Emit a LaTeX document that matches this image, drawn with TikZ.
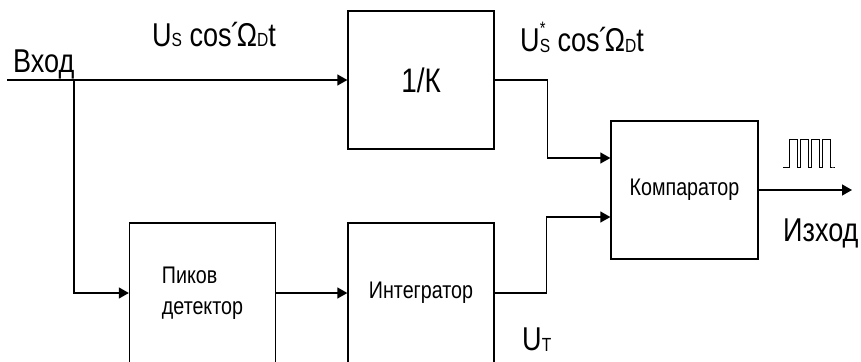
\documentclass[tikz,border=0pt]{standalone}
\usepackage{fontspec}
\setmainfont{Liberation Sans}[FakeStretch=0.82]
\usepackage{tikz}
\usetikzlibrary{arrows.meta, positioning}

% small index letter set on the base line
\newcommand{\lowtxt}[1]{\raisebox{-1pt}{\fontsize{19}{19}\selectfont #1}}
\newcommand{\startxt}{\makebox[0pt][l]{\raisebox{17pt}{\fontsize{18}{18}\selectfont *}}}
\newcommand{\acutetxt}{\kern-1pt´\kern-3pt}

\begin{document}
\begin{tikzpicture}[
    x=1pt, y=-1pt,
    blockbox/.style={draw, line width=1.3pt, minimum width=146pt, minimum height=138pt, inner sep=0pt, font=\fontsize{24}{31}\selectfont},
    sig/.style={-{Triangle[length=10pt, width=11pt]}, line width=1.3pt},
    lbl/.style={inner sep=0pt, font=\fontsize{33}{36}\selectfont},
]
  \useasboundingbox (0,0) rectangle (861,361);
  \clip (0,0) rectangle (861,361);

  \node[blockbox, font=\fontsize{34}{36}\selectfont] (inv) at (421,80) {\raisebox{-3pt}{1/К}};
  \node[blockbox, minimum height=140pt, align=left] (peak) at (202.5,293) {Пиков\\детектор};
  \node[blockbox, minimum height=140pt] (integ) at (421,293) {Интегратор};
  \node[blockbox, minimum width=147pt] (cmp) at (684.5,190) {Компаратор};

  \coordinate (in) at (7,80);
  \coordinate (split) at (74,80);
  \coordinate (out) at (852,190);

  \draw[sig] (in) -- (inv.west);
  \draw[sig] (split) |- (peak.west);
  \draw[sig] (peak.east) -- (integ.west);
  \draw[sig] (inv.east) -- ++(53,0) |- ([yshift=32pt]cmp.west);
  \draw[sig] (integ.east) -- ++(52,0) |- ([yshift=-27pt]cmp.west);
  \draw[sig] (cmp.east) -- (out);

  % pulse train over the output
  \draw[line width=1pt] (783,167) -- (789,167)
    foreach \k in {1,...,4} { -- ++(0,-28) -- ++(8,0) -- ++(0,28) -- ++(3,0) } -- ++(2,0);

  \node[lbl, anchor=base west] (vhod) at (13,72) {Вход};
  \node[lbl, anchor=base west] (izhod) at (783,241) {Изход};
  \node[lbl, anchor=base west] (usin) at (152,46) {U\lowtxt{S} cos\acutetxt Ω\lowtxt{D}t};
  \node[lbl, anchor=base west] (usout) at (520,52) {U\startxt\lowtxt{S} cos\acutetxt Ω\lowtxt{D}t};
  \node[lbl, anchor=base west] (ut) at (522,350) {U\lowtxt{T}};
\end{tikzpicture}
\end{document}
